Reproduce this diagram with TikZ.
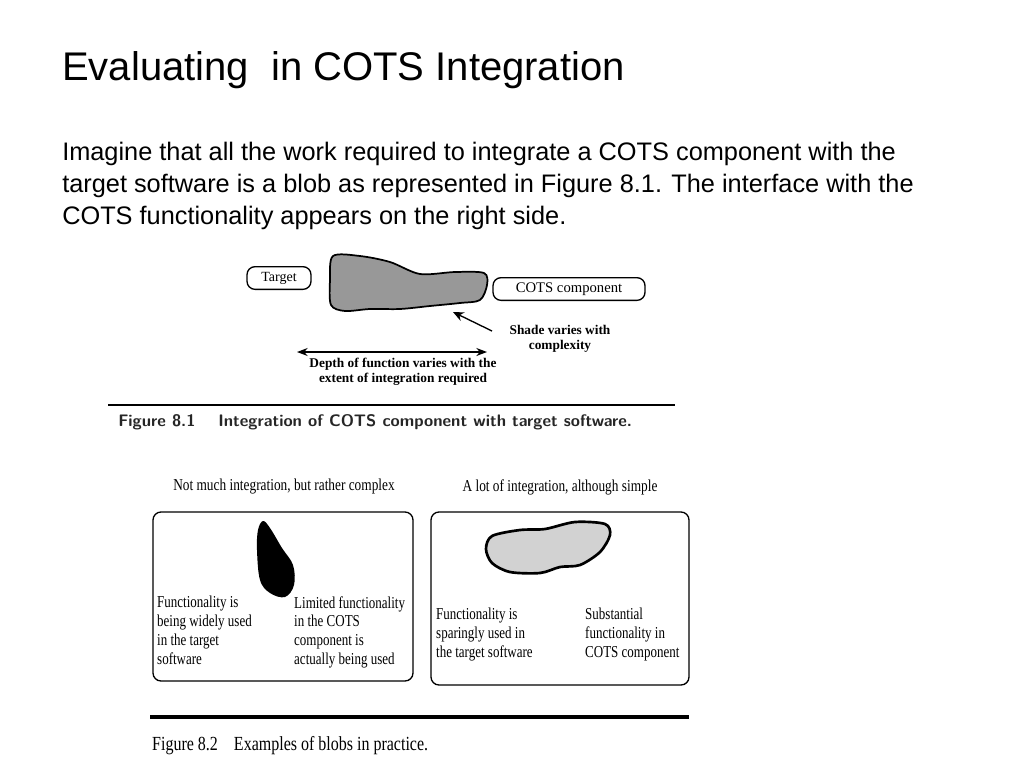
\documentclass[tikz,border=0pt]{standalone}
\usepackage{fontspec}
\setmainfont{Liberation Sans}
\newfontfamily\serf{Liberation Serif}
\usetikzlibrary{arrows.meta}
\begin{document}
\begin{tikzpicture}[x=0.75pt,y=-0.75pt,
  body/.style={anchor=base west,inner sep=0,font=\fontsize{19}{22}\selectfont},
  rbox/.style={draw,rounded corners=6pt,line width=1pt},
  fa/.style={font=\serf\bfseries\fontsize{10}{11}\selectfont,align=center,inner sep=0},
  fb/.style={font=\serf\fontsize{12.5}{14.2}\selectfont,align=left,inner sep=0,anchor=north west,xscale=0.78},
  fh/.style={font=\serf\fontsize{12.5}{14}\selectfont,inner sep=0,xscale=0.8}]
\useasboundingbox (0,0) rectangle (1024,768);
\node[body,font=\fontsize{30}{34}\selectfont] (title) at (62,80) {Evaluating\ \ in COTS\ Integration};
\node[body] (l1) at (62,160) {Imagine that all the work required to integrate a COTS component with the};
\node[body] (l2) at (62,192) {target software is a blob as represented in Figure 8.1. The interface with the};
\node[body] (l3) at (62,224) {COTS functionality appears on the right side.};
% Figure 8.1
\node[rbox,fa,minimum width=48pt,minimum height=17pt,font=\serf\fontsize{10.5}{12}\selectfont] (tgt) at (279,278) {Target};
\node[rbox,fa,minimum width=114pt,minimum height=17pt,font=\serf\fontsize{11}{12}\selectfont] (cots) at (569,289) {COTS component};
\draw[line width=1.3pt,fill=gray!85!black!70] plot[smooth cycle,tension=0.5] coordinates
 {(333,256) (360,256) (390,262) (420,274) (455,272) (484,273) (487,285) (480,300) (460,303) (430,306) (400,309) (370,309) (345,311) (331,305) (330,280)};
\coordinate (blobpt) at (453,312);
\node[fa] (shade) at (560,339) {Shade varies with\\complexity};
\draw[-{Stealth[length=8pt,width=7pt]},line width=1pt] (492,331) -- (blobpt);
\coordinate (dl) at (297,352);
\coordinate (dr) at (487,352);
\draw[{Stealth[length=8pt,width=6pt]}-{Stealth[length=8pt,width=6pt]},line width=0.9pt] (dl) -- (dr);
\node[fa] (depth) at (403,372) {Depth of function varies with the\\extent of integration required};
\draw[line width=2.2pt] (108,405) -- (675,405);
\node[fa,anchor=west,font=\fontsize{12.5}{14}\selectfont\sffamily\bfseries,text=black!85] (cap1) at (118,422) {Figure 8.1\quad\ Integration of COTS component with target software.};
% Figure 8.2
\node[fh] (h1) at (284,487) {Not much integration, but rather complex};
\node[fh] (h2) at (560,487) {A lot of integration, although simple};
\draw[rbox] (153,512) rectangle (413,681);
\draw[rbox] (431,512) rectangle (689,685);
\fill plot[smooth cycle,tension=0.6] coordinates {(263,521) (270,528) (282,548) (293,565) (294,585) (285,597) (270,593) (260,580) (257,550) (258,530)};
\draw[line width=2pt,fill=gray!35] plot[smooth cycle,tension=0.5] coordinates
 {(492,536) (520,530) (545,529) (575,522) (605,524) (610,535) (600,552) (580,565) (560,567) (540,573) (510,572) (492,563) (486,549)};
\node[fb] (t1) at (157,596) {Functionality is\\being widely used\\in the target\\software};
\node[fb] (t2) at (294,596) {Limited functionality\\in the COTS\\component is\\actually being used};
\node[fb] (t3) at (436,608) {Functionality is\\sparingly used in\\the target software};
\node[fb] (t4) at (585,608) {Substantial\\functionality in\\COTS component};
\draw[line width=3.5pt] (150,717) -- (689,717);
\node[fh,anchor=west,font=\fontsize{15}{16}\selectfont\serf] (cap2) at (152,746) {Figure 8.2\quad Examples of blobs in practice.};
\end{tikzpicture}
\end{document}
